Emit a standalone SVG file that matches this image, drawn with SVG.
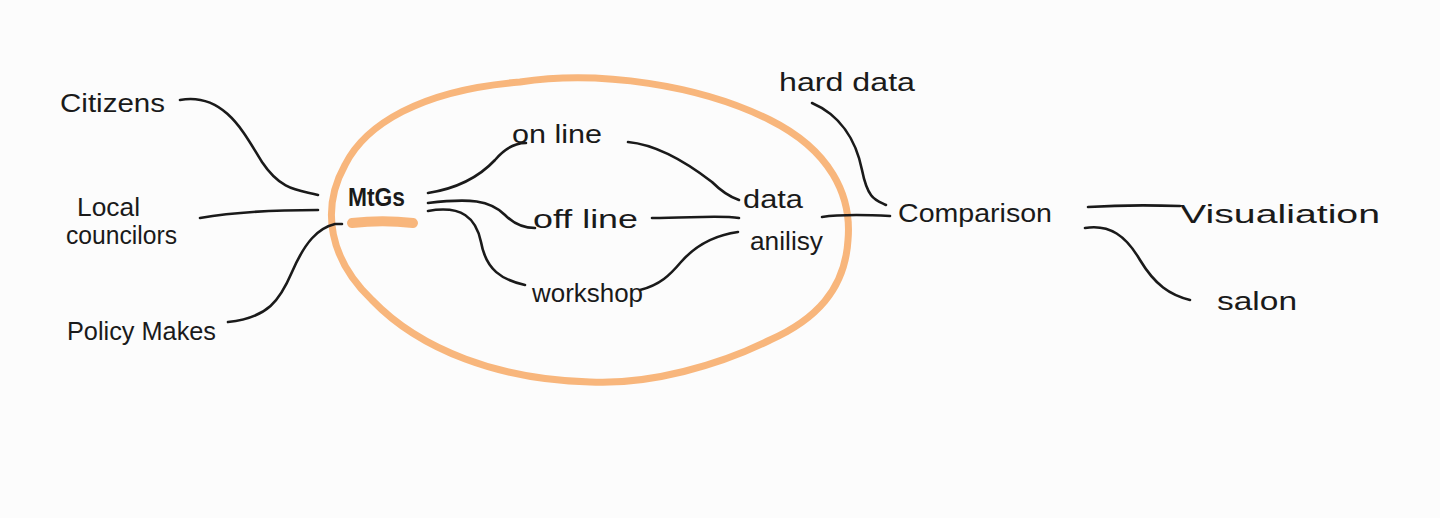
<svg xmlns="http://www.w3.org/2000/svg" width="1440" height="518" viewBox="0 0 1440 518">
<style>
.t{font-family:"Liberation Sans","DejaVu Sans",sans-serif;font-size:25px;fill:#1a1a1a}
.c{fill:none;stroke:#1a1a1a;stroke-width:2.6;stroke-linecap:round;stroke-linejoin:round}
.o{fill:none;stroke:#f8b67c;stroke-linecap:round;stroke-linejoin:round}
</style>
<rect width="1440" height="518" fill="#fcfcfc"/>
<g id="highlight">
<path class="o" stroke-width="7" d="M520,82 C600,70 700,85 770,120 C830,150 852,195 848,240 C845,290 815,320 770,340 C720,365 650,385 590,382 C500,380 420,350 372,300 C330,260 320,210 345,165 C365,125 420,90 520,82 Z"/>
</g>
<g id="connectors">
<path class="c" d="M180,100 C225,92 245,135 262,162 C282,192 300,190 318,195"/>
<path class="c" d="M200,218 C240,211 282,210 318,210"/>
<path class="c" d="M228,322 C268,318 280,300 292,272 C305,242 318,228 335,224 L342,224"/>
<path class="c" d="M428,193 C460,188 480,176 495,160 C505,148 515,143 526,143"/>
<path class="c" d="M428,203 C470,198 490,200 505,215 C515,225 525,228 535,228"/>
<path class="c" d="M428,211 C462,205 476,218 481,242 C486,270 502,280 525,285"/>
<path class="c" d="M628,142 C660,145 690,165 712,182 C722,192 730,197 739,200"/>
<path class="c" d="M652,218 C690,218 720,215 739,218"/>
<path class="c" d="M640,290 C660,285 670,275 681,262 C696,245 716,235 738,232"/>
<path class="c" d="M822,217 C842,214 870,215 890,216"/>
<path class="c" d="M812,103 C840,115 856,140 862,170 C868,200 876,200 886,205"/>
<path class="c" d="M1088,207 C1120,205 1150,205 1180,206"/>
<path class="c" d="M1085,228 C1110,224 1126,236 1140,260 C1155,285 1170,295 1190,300"/>
</g>
<g id="citizens"><text class="t" x="60" y="112" textLength="105" lengthAdjust="spacingAndGlyphs">Citizens</text></g>
<g id="local-councilors">
<text class="t" x="77" y="216" textLength="63" lengthAdjust="spacingAndGlyphs">Local</text>
<text class="t" x="66" y="244" textLength="111" lengthAdjust="spacingAndGlyphs">councilors</text>
</g>
<g id="policy-makes"><text class="t" x="67" y="340" textLength="149" lengthAdjust="spacingAndGlyphs">Policy Makes</text></g>
<g id="mtgs">
<text class="t" x="348" y="206" textLength="57" lengthAdjust="spacingAndGlyphs" font-weight="bold">MtGs</text>
<path class="o" stroke-width="10" d="M352,223 C370,221 395,221 413,223"/>
</g>
<g id="online"><text class="t" x="512" y="143" textLength="90" lengthAdjust="spacingAndGlyphs">on line</text></g>
<g id="offline"><text class="t" x="533" y="228" textLength="105" lengthAdjust="spacingAndGlyphs">off line</text></g>
<g id="workshop"><text class="t" x="532" y="302" textLength="111" lengthAdjust="spacingAndGlyphs">workshop</text></g>
<g id="data-analysis">
<text class="t" x="743" y="208" textLength="60" lengthAdjust="spacingAndGlyphs">data</text>
<text class="t" x="750" y="250" textLength="73" lengthAdjust="spacingAndGlyphs">anilisy</text>
</g>
<g id="hard-data"><text class="t" x="779" y="91" textLength="136" lengthAdjust="spacingAndGlyphs">hard data</text></g>
<g id="comparison"><text class="t" x="898" y="222" textLength="154" lengthAdjust="spacingAndGlyphs">Comparison</text></g>
<g id="visualiation"><text class="t" x="1180" y="223" font-size="31" textLength="200" lengthAdjust="spacingAndGlyphs">Visualiation</text></g>
<g id="salon"><text class="t" x="1217" y="310" font-size="27" textLength="80" lengthAdjust="spacingAndGlyphs">salon</text></g>
</svg>
